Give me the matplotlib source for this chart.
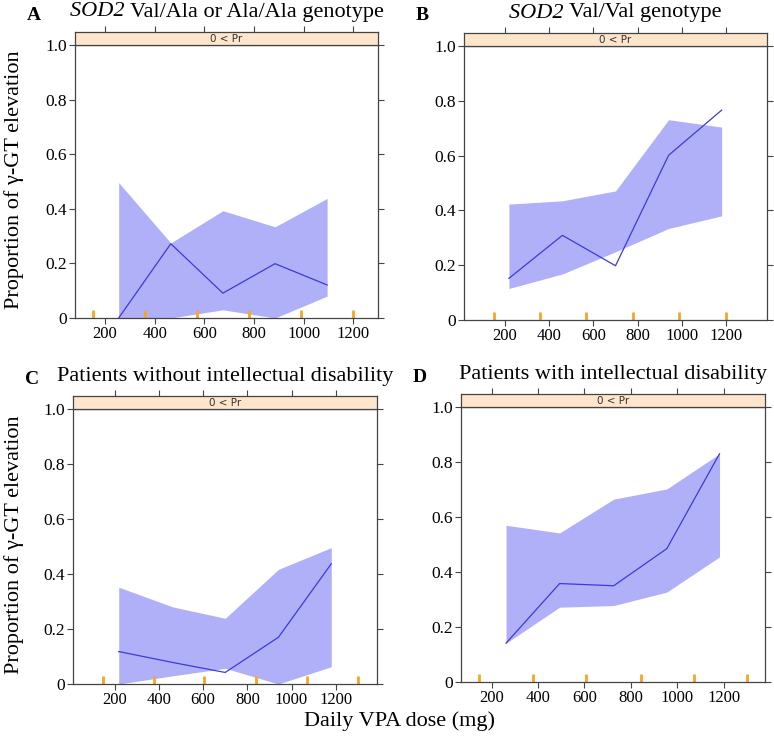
import matplotlib
matplotlib.use("Agg")
import matplotlib.pyplot as plt

plt.rcParams['font.family'] = ['Liberation Serif', 'DejaVu Serif']

# data (dose in mg, proportion of gamma-GT elevation)
dose_a = [255, 465, 675, 885, 1095]
prop_a = [0.0, 0.272, 0.091, 0.199, 0.121]
upper_a = [0.496, 0.275, 0.393, 0.334, 0.438]
lower_a = [0.0, 0.0, 0.03, 0.0, 0.08]
rug_a = [150, 360, 570, 780, 990, 1200]

dose_b = [218, 460, 700, 940, 1180]
prop_b = [0.152, 0.309, 0.198, 0.601, 0.766]
upper_b = [0.423, 0.435, 0.471, 0.731, 0.704]
lower_b = [0.115, 0.168, 0.249, 0.334, 0.380]
rug_b = [150, 358, 566, 779, 987, 1200]

dose_c = [218, 464, 700, 941, 1180]
prop_c = [0.118, 0.078, 0.042, 0.170, 0.437]
upper_c = [0.352, 0.280, 0.239, 0.417, 0.496]
lower_c = [0.0, 0.030, 0.057, 0.0, 0.063]
rug_c = [147, 377, 606, 841, 1070, 1302]

dose_d = [262, 493, 726, 955, 1182]
prop_d = [0.141, 0.358, 0.350, 0.485, 0.830]
upper_d = [0.570, 0.542, 0.665, 0.702, 0.830]
lower_d = [0.141, 0.272, 0.278, 0.327, 0.455]
rug_d = [147, 377, 607, 843, 1071, 1302]

xticks = [200, 400, 600, 800, 1000, 1200]
yticks = [0, 0.2, 0.4, 0.6, 0.8, 1.0]
ylabels = ['0', '0.2', '0.4', '0.6', '0.8', '1.0']

W, H = 774, 737
fig = plt.figure(figsize=(W / 100, H / 100), dpi=100)

edge = '#444444'
big = 16


def panel(box, xlim, dose, prop, lo, hi, rug, letter, title, italic_part=None):
    x0, y0, x1, y1 = box  # pixel box of the data area
    ax = fig.add_axes([x0 / W, 1 - y1 / H, (x1 - x0) / W, (y1 - y0) / H])
    ax.fill_between(dose, lo, hi, color='#b0b0f8', lw=0)
    ax.plot(dose, prop, color='#3c3cd4', lw=0.9)
    for r in rug:
        ax.plot([r, r], [0, 0.03], color='#f5a623', lw=2, solid_capstyle='butt')
    ax.set_xlim(*xlim)
    ax.set_ylim(0, 1)
    ax.set_xticks(xticks)
    ax.set_xticklabels([str(t) for t in xticks], fontsize=12)
    ax.set_yticks(yticks)
    ax.set_yticklabels(ylabels, fontsize=12.5)
    ax.tick_params(direction='out', length=4, color=edge, right=True, pad=2)
    for s in ax.spines.values():
        s.set_color(edge)
        s.set_linewidth(0.9)

    # strip above the panel
    sh = 13
    st = fig.add_axes([x0 / W, 1 - y0 / H, (x1 - x0) / W, sh / H])
    st.set_facecolor('#ffe5cc')
    st.set_xlim(*xlim)
    st.set_ylim(0, 1)
    st.set_yticks([])
    st.set_xticks(xticks)
    st.tick_params(axis='x', direction='out', length=4, color=edge,
                   top=True, bottom=False, labeltop=False, labelbottom=False)
    for s in st.spines.values():
        s.set_color(edge)
        s.set_linewidth(0.9)
    st.text(0.5, 0.45, '0 < Pr', ha='center', va='center', fontsize=7.5,
            family='DejaVu Sans', color='#333333', transform=st.transAxes)

    # panel letter and title
    fig.text((x0 - 48) / W, 1 - (y0 - 30) / H, letter, fontsize=14,
             fontweight='bold', ha='left', va='center')
    cx = (x0 + x1) / 2 / W
    ty = 1 - (y0 - 33) / H
    if italic_part:
        t1 = fig.text(cx, ty, italic_part + ' ', fontsize=big, style='italic',
                      ha='right', va='center')
        fig.canvas.draw()
        bb = t1.get_window_extent()
        full = fig.text(0, ty, title, fontsize=big, ha='left', va='center')
        bb2 = full.get_window_extent(renderer=fig.canvas.get_renderer())
        total = bb.width + bb2.width
        left = cx * W - total / 2
        t1.set_ha('left')
        t1.set_x(left / W)
        full.set_x((left + bb.width) / W)
    else:
        fig.text(cx, ty, title, fontsize=big, ha='center', va='center')
    return ax


panel((75, 45, 378, 318), (79, 1300), dose_a, prop_a, lower_a, upper_a, rug_a,
      'A', 'Val/Ala or Ala/Ala genotype', 'SOD2')
panel((464, 46, 767, 320), (15, 1385), dose_b, prop_b, lower_b, upper_b, rug_b,
      'B', 'Val/Val genotype', 'SOD2')
panel((73, 409, 377, 684), (11, 1387), dose_c, prop_c, lower_c, upper_c, rug_c,
      'C', 'Patients without intellectual disability')
panel((461, 407, 765, 682), (68, 1378), dose_d, prop_d, lower_d, upper_d, rug_d,
      'D', 'Patients with intellectual disability')

fig.text(14 / W, 1 - 180 / H, 'Proportion of γ-GT elevation', rotation=90,
         fontsize=big, ha='center', va='center')
fig.text(14 / W, 1 - 545 / H, 'Proportion of γ-GT elevation', rotation=90,
         fontsize=big, ha='center', va='center')
fig.text(400 / W, 1 - 721 / H, 'Daily VPA dose (mg)', fontsize=big,
         ha='center', va='center')

fig.savefig('out.png', dpi=100)
